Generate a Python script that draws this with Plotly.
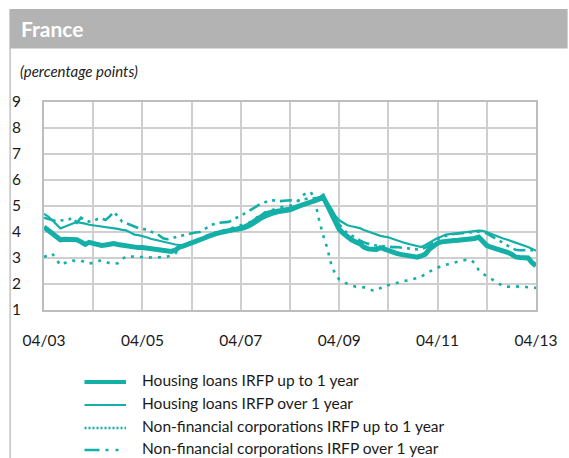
import pandas as pd
import plotly.graph_objects as go

# Monthly observations, April 2003 - April 2013
months = pd.date_range("2003-04-01", periods=121, freq="MS")

housing_up_to_1y = [
    4.19, 4.08, 3.94, 3.80, 3.70, 3.72, 3.71, 3.72, 3.70, 3.62, 3.52, 3.60,
    3.56, 3.52, 3.48, 3.50, 3.53, 3.56, 3.52, 3.49, 3.48, 3.44, 3.41, 3.40,
    3.40, 3.38, 3.36, 3.35, 3.33, 3.31, 3.28, 3.25, 3.30, 3.42, 3.47, 3.52,
    3.56, 3.62, 3.70, 3.76, 3.83, 3.90, 3.94, 3.98, 4.00, 4.04, 4.08, 4.11,
    4.14, 4.20, 4.28, 4.38, 4.50, 4.60, 4.70, 4.74, 4.78, 4.80, 4.84, 4.86,
    4.88, 4.93, 5.00, 5.06, 5.12, 5.16, 5.20, 5.26, 5.37, 5.05, 4.75, 4.40,
    4.10, 3.95, 3.80, 3.70, 3.62, 3.55, 3.42, 3.35, 3.34, 3.33, 3.40, 3.34,
    3.28, 3.23, 3.18, 3.14, 3.11, 3.08, 3.05, 3.03, 3.08, 3.15, 3.35, 3.47,
    3.57, 3.62, 3.65, 3.66, 3.67, 3.68, 3.69, 3.70, 3.72, 3.75, 3.80, 3.62,
    3.48, 3.42, 3.38, 3.33, 3.28, 3.22, 3.15, 3.04, 3.02, 3.01, 3.00, 2.83,
    2.70,
]

housing_over_1y = [
    4.70, 4.60, 4.45, 4.30, 4.14, 4.20, 4.27, 4.33, 4.38, 4.36, 4.32, 4.28,
    4.26, 4.23, 4.20, 4.18, 4.16, 4.15, 4.12, 4.08, 4.06, 3.98, 3.90, 3.88,
    3.85, 3.80, 3.74, 3.70, 3.67, 3.63, 3.58, 3.55, 3.52, 3.50, 3.51, 3.55,
    3.60, 3.66, 3.72, 3.78, 3.84, 3.90, 3.94, 3.97, 4.00, 4.02, 4.04, 4.06,
    4.07, 4.12, 4.18, 4.27, 4.38, 4.48, 4.56, 4.63, 4.68, 4.72, 4.75, 4.78,
    4.80, 4.86, 4.93, 5.00, 5.08, 5.15, 5.25, 5.32, 5.35, 5.15, 4.90, 4.64,
    4.45, 4.35, 4.26, 4.22, 4.18, 4.15, 4.08, 4.02, 3.95, 3.88, 3.85, 3.82,
    3.80, 3.74, 3.68, 3.63, 3.58, 3.54, 3.50, 3.46, 3.42, 3.50, 3.60, 3.68,
    3.77, 3.83, 3.90, 3.92, 3.94, 3.96, 3.98, 4.00, 4.01, 4.02, 4.05, 4.04,
    4.00, 3.93, 3.86, 3.80, 3.75, 3.70, 3.65, 3.58, 3.52, 3.47, 3.42, 3.36,
    3.28,
]

nfc_up_to_1y = [
    3.04, 3.10, 3.17, 2.95, 2.72, 2.80, 2.88, 2.90, 2.88, 2.90, 2.84, 2.78,
    2.82, 2.88, 2.91, 2.85, 2.80, 2.78, 2.80, 2.95, 3.07, 3.06, 3.05, 3.04,
    3.05, 3.03, 3.02, 3.03, 3.03, 3.02, 3.05, 3.10, 3.17, 3.43, 3.52, 3.58,
    3.60, 3.66, 3.74, 3.80, 3.87, 3.94, 3.98, 4.03, 4.05, 4.10, 4.16, 4.20,
    4.25, 4.30, 4.36, 4.46, 4.58, 4.68, 4.76, 4.82, 4.88, 4.92, 4.96, 4.98,
    5.00, 5.08, 5.20, 5.40, 5.50, 5.55, 5.25, 4.50, 3.90, 3.40, 2.75, 2.40,
    2.17, 2.08, 2.00, 1.94, 1.90, 1.88, 1.87, 1.82, 1.76, 1.74, 1.85, 1.94,
    1.96, 2.00, 2.04, 2.08, 2.12, 2.14, 2.18, 2.22, 2.27, 2.40, 2.48, 2.55,
    2.62, 2.70, 2.74, 2.78, 2.84, 2.88, 2.90, 2.93, 2.94, 2.80, 2.53, 2.40,
    2.30, 2.23, 2.10, 2.00, 1.91, 1.90, 1.89, 1.91, 1.90, 1.88, 1.87, 1.86,
    1.85,
]

nfc_over_1y = [
    4.55, 4.50, 4.45, 4.42, 4.44, 4.46, 4.48, 4.55, 4.36, 4.55, 4.45, 4.40,
    4.42, 4.50, 4.53, 4.46, 4.60, 4.78, 4.60, 4.40, 4.34, 4.28, 4.20, 4.15,
    4.12, 4.10, 4.02, 3.95, 3.88, 3.76, 3.72, 3.76, 3.80, 3.85, 3.88, 3.92,
    3.95, 3.98, 4.00, 4.10, 4.20, 4.28, 4.34, 4.36, 4.38, 4.39, 4.45, 4.55,
    4.62, 4.72, 4.80, 4.90, 5.00, 5.10, 5.15, 5.20, 5.22, 5.18, 5.20, 5.21,
    5.22, 5.20, 5.20, 5.25, 5.28, 5.30, 5.30, 5.32, 5.30, 5.00, 4.70, 4.50,
    4.30, 4.10, 3.95, 3.88, 3.78, 3.68, 3.60, 3.55, 3.50, 3.48, 3.46, 3.44,
    3.43, 3.42, 3.42, 3.40, 3.38, 3.36, 3.34, 3.33, 3.34, 3.40, 3.50, 3.62,
    3.72, 3.80, 3.86, 3.90, 3.92, 3.94, 3.96, 3.98, 3.99, 4.00, 4.02, 3.98,
    3.95, 3.85, 3.76, 3.68, 3.58, 3.48, 3.38, 3.32, 3.30, 3.30, 3.31, 3.30,
    3.28,
]

series_names = [
    "Housing loans IRFP up to 1 year",
    "Housing loans IRFP over 1 year",
    "Non-financial corporations IRFP up to 1 year",
    "Non-financial corporations IRFP over 1 year",
]

year_ticks = pd.date_range("2003-04-01", periods=11, freq="12MS")
year_labels = ["04/03", "", "04/05", "", "04/07", "", "04/09", "", "04/11", "", "04/13"]
y_ticks = [1, 2, 3, 4, 5, 6, 7, 8, 9]
y_labels = ["1", "2", "3", "4", "5", "6", "7", "8", "9"]

TEAL = "#14b0a8"
FONT = "Lato, 'Open Sans', sans-serif"
W, H = 569, 458
PL, PR, PT, PB = 41, 539, 102, 310  # plot box in pixels

styles = [
    dict(width=5.0, dash="solid"),
    dict(width=2.2, dash="solid"),
    dict(width=2.6, dash="3px,6px"),
    dict(width=2.6, dash="12px,5px,3px,5px,3px,5px"),
]
legend_styles = [
    dict(width=4.0, dash="solid"),
    dict(width=2.2, dash="solid"),
    dict(width=2.4, dash="2px,2px"),
    dict(width=2.6, dash="15px,6px,3px,7px,3px,20px"),
]
data = [housing_up_to_1y, housing_over_1y, nfc_up_to_1y, nfc_over_1y]

fig = go.Figure()
# draw thin / dashed series first so the thick line sits on top
for idx in [3, 2, 1, 0]:
    fig.add_trace(go.Scatter(
        x=months, y=data[idx], mode="lines", name=series_names[idx],
        line=dict(color=TEAL, width=styles[idx]["width"], dash=styles[idx]["dash"]),
        showlegend=False, hoverinfo="skip",
    ))


def px_x(p):
    return (p - PL) / (PR - PL)


def px_y(p):
    return (PB - p) / (PB - PT)


shapes = [
    # header band
    dict(type="rect", xref="paper", yref="paper", x0=px_x(6), x1=px_x(W + 2),
         y0=px_y(48.5), y1=px_y(9), fillcolor="#b3b3b3", line=dict(width=0), layer="below"),
    # left panel border
    dict(type="line", xref="paper", yref="paper", x0=px_x(6.7), x1=px_x(6.7),
         y0=px_y(48), y1=px_y(H + 2), line=dict(color="#b8b8b8", width=1.3)),
]
annotations = [
    dict(text="<b>France</b>", xref="paper", yref="paper", x=px_x(16), y=px_y(29),
         xanchor="left", yanchor="middle", showarrow=False,
         font=dict(family=FONT, size=21, color="white")),
    dict(text="<i>(percentage points)</i>", xref="paper", yref="paper", x=px_x(15),
         y=px_y(71), xanchor="left", yanchor="middle", showarrow=False,
         font=dict(family=FONT, size=15, color="#222222")),
]

# legend key drawn beneath the chart
legend_rows = [380, 403, 426, 448]
for idx, row in enumerate(legend_rows):
    shapes.append(dict(type="line", xref="paper", yref="paper",
                       x0=px_x(82), x1=px_x(124), y0=px_y(row + 2), y1=px_y(row + 2),
                       line=dict(color=TEAL, width=legend_styles[idx]["width"],
                                 dash=legend_styles[idx]["dash"])))
    annotations.append(dict(text=series_names[idx], xref="paper", yref="paper",
                            x=px_x(138), y=px_y(row), xanchor="left", yanchor="middle",
                            showarrow=False, font=dict(family=FONT, size=15.5, color="#1a1a1a")))

fig.update_layout(
    width=W, height=H,
    margin=dict(l=PL, r=W - PR, t=PT, b=H - PB, pad=0),
    paper_bgcolor="white", plot_bgcolor="white",
    font=dict(family=FONT, size=15, color="#1a1a1a"),
    shapes=shapes, annotations=annotations,
    showlegend=False,
)
fig.update_xaxes(
    range=[months[0], months[-1]], tickvals=year_ticks, ticktext=year_labels,
    showgrid=True, gridcolor="#cfcfcf", gridwidth=1.5,
    showline=True, linecolor="#bdbdbd", linewidth=2, mirror=True,
    ticks="", ticklabelstandoff=15, zeroline=False,
    tickfont=dict(family=FONT, size=15.5, color="#1a1a1a"),
)
fig.update_yaxes(
    range=[1, 9], tickvals=y_ticks, ticktext=y_labels,
    showgrid=True, gridcolor="#cfcfcf", gridwidth=1.5,
    showline=True, linecolor="#bdbdbd", linewidth=2, mirror=True,
    ticks="", ticklabelstandoff=18, zeroline=False,
    tickfont=dict(family=FONT, size=15.5, color="#1a1a1a"),
)

fig.write_html("out.html")
